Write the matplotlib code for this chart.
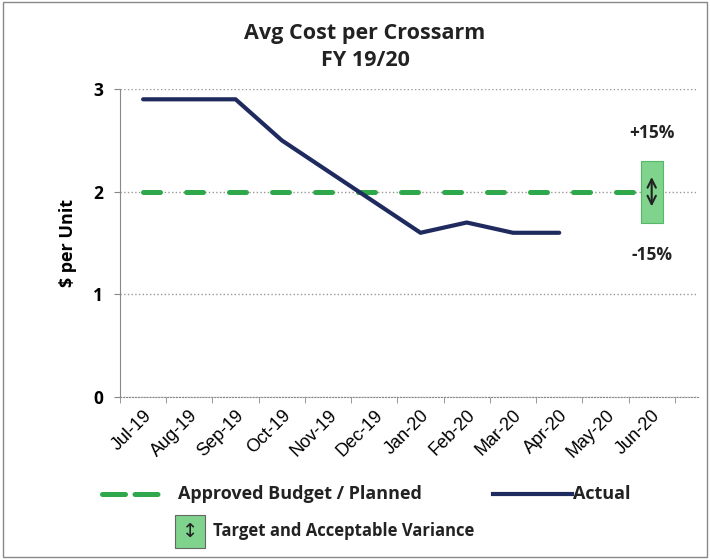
import matplotlib
matplotlib.use("Agg")
import matplotlib.pyplot as plt
from matplotlib.lines import Line2D
from matplotlib.patches import Rectangle

# --- data ---
months = ['Jul-19', 'Aug-19', 'Sep-19', 'Oct-19', 'Nov-19', 'Dec-19',
          'Jan-20', 'Feb-20', 'Mar-20', 'Apr-20', 'May-20', 'Jun-20']
budget = [2.0] * 12
actual = [2.9, 2.9, 2.9, 2.5, 2.2, 1.9, 1.6, 1.7, 1.6, 1.6]
target = 2.0
variance = 0.15

navy = '#1f2b5e'
green = '#2ea84a'
box_green = '#7fd38c'
bold_font = 'Open Sans'
ink = '#222222'

fig = plt.figure(figsize=(7.1, 5.6), dpi=100)
ax = fig.add_axes([0.169, 0.291, 0.814, 0.550])

x = list(range(len(months)))
ax.plot(x, budget, color=green, lw=3.6, dashes=(3.4, 5.2), dash_capstyle='round', zorder=3)
ax.plot(x[:len(actual)], actual, color=navy, lw=3.0, solid_capstyle='round', zorder=4)

# target band with double arrow at the last month
lo, hi = target * (1 - variance), target * (1 + variance)
ax.add_patch(Rectangle((x[-1] - 0.24, lo), 0.48, hi - lo, facecolor=box_green,
                       edgecolor='#55b866', lw=0.8, zorder=5))
ax.annotate('', xy=(x[-1], target + 0.17), xytext=(x[-1], target - 0.17),
            arrowprops=dict(arrowstyle='<->', color=ink, lw=1.5,
                            mutation_scale=15), zorder=6)
ax.text(x[-1], 2.57, '+15%', ha='center', va='center', fontsize=12.5,
        fontweight='bold', family=bold_font, color=ink)
ax.text(x[-1], 1.38, '-15%', ha='center', va='center', fontsize=12.5,
        fontweight='bold', family=bold_font, color=ink)

ax.set_xlim(-0.5, 12.0)
ax.set_ylim(0, 3)
ax.set_yticks([0, 1, 2, 3])
ax.set_yticklabels(['0', '1', '2', '3'], fontweight='bold', family=bold_font, fontsize=12.5)
ax.set_xticks(x)
ax.set_xticklabels(months, rotation=45, ha='right', rotation_mode='anchor',
                   family='Liberation Sans', fontsize=13)
ax.tick_params(axis='x', length=0, pad=7)
ax.tick_params(axis='y', length=4, color='#888888', pad=8)
ax.set_xticks([i - 0.5 for i in range(13)], minor=True)
ax.tick_params(axis='x', which='minor', length=4, color='#888888', direction='out')

ax.grid(axis='y', color='#999999', ls=':', lw=1.0)
for s in ['top', 'right']:
    ax.spines[s].set_visible(False)
ax.spines['left'].set_color('#888888')
ax.spines['bottom'].set_color('#888888')
ax.spines['bottom'].set_linestyle(':')
ax.set_ylabel('$ per Unit', fontweight='bold', family=bold_font, fontsize=13, labelpad=12)

fig.text(0.514, 0.94, 'Avg Cost per Crossarm', ha='center', va='center',
         fontsize=15.5, fontweight='bold', family=bold_font, color=ink)
fig.text(0.514, 0.892, 'FY 19/20', ha='center', va='center',
         fontsize=15.5, fontweight='bold', family=bold_font, color=ink)

# legend drawn by hand at the bottom
fig.add_artist(Line2D([0.143, 0.226], [0.118, 0.118], color=green, lw=3.6,
                      dashes=(4.6, 1.9), dash_capstyle='round'))
fig.text(0.25, 0.118, 'Approved Budget / Planned', ha='left', va='center',
         fontsize=13, fontweight='bold', family=bold_font, color=ink)
fig.add_artist(Line2D([0.695, 0.805], [0.118, 0.118], color=navy, lw=3.0))
fig.text(0.807, 0.118, 'Actual', ha='left', va='center',
         fontsize=13, fontweight='bold', family=bold_font, color=ink)
fig.add_artist(Rectangle((0.247, 0.022), 0.042, 0.058, transform=fig.transFigure,
                         facecolor=box_green, edgecolor='#666666', lw=0.8))
fig.text(0.268, 0.051, '\u2195', ha='center', va='center', fontsize=14,
         family='DejaVu Sans', color=ink)
fig.text(0.3, 0.051, 'Target and Acceptable Variance', ha='left', va='center',
         fontsize=12, fontweight='bold', family=bold_font, color=ink)

fig.add_artist(Rectangle((0.004, 0.006), 0.992, 0.99, transform=fig.transFigure,
                         fill=False, edgecolor='#888888', lw=1.0))

fig.savefig('out.png', dpi=100)
